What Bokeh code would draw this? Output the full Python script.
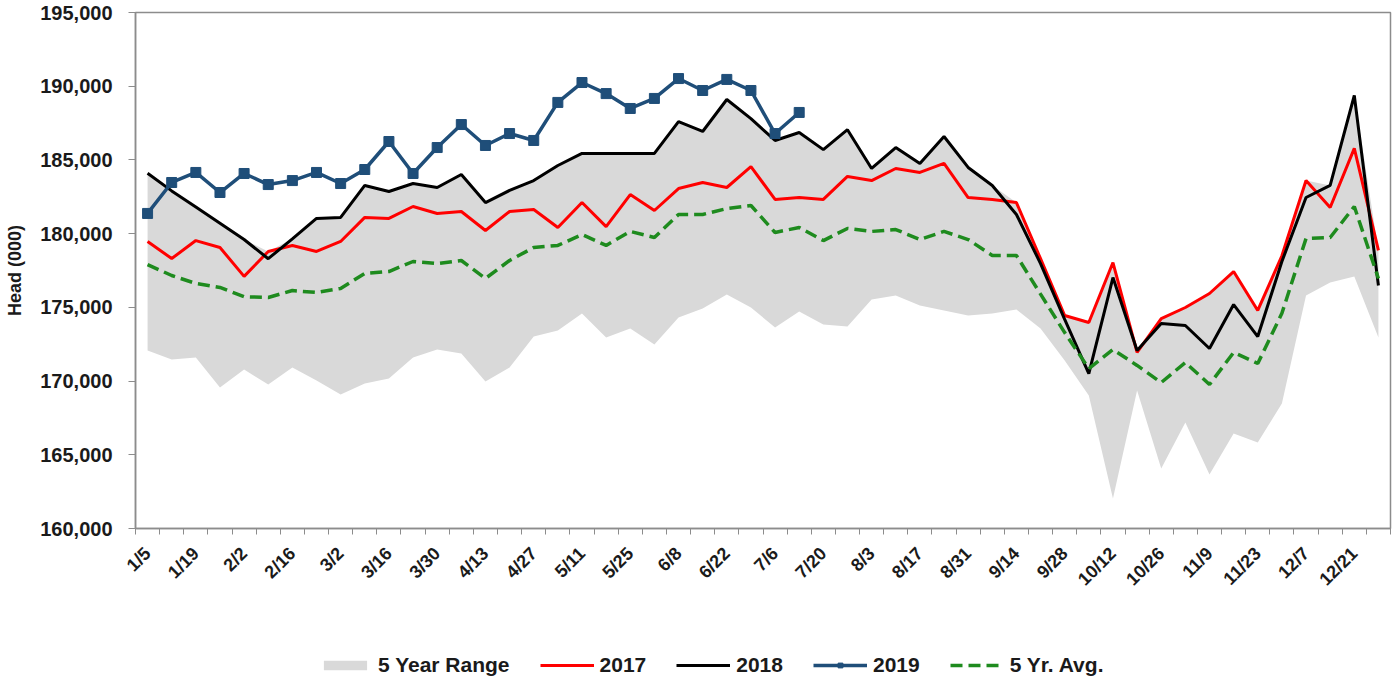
import math
from bokeh.plotting import figure
from bokeh.layouts import column
from bokeh.models import (Range1d, FixedTicker, NumeralTickFormatter, Legend, LegendItem)
from bokeh.embed import file_html
from bokeh.resources import INLINE

weeks = ["1/5", "1/12", "1/19", "1/26", "2/2", "2/9", "2/16", "2/23", "3/2", "3/9",
         "3/16", "3/23", "3/30", "4/6", "4/13", "4/20", "4/27", "5/4", "5/11", "5/18",
         "5/25", "6/1", "6/8", "6/15", "6/22", "6/29", "7/6", "7/13", "7/20", "7/27",
         "8/3", "8/10", "8/17", "8/24", "8/31", "9/7", "9/14", "9/21", "9/28", "10/5",
         "10/12", "10/19", "10/26", "11/2", "11/9", "11/16", "11/23", "11/30", "12/7", "12/14",
         "12/21", "12/28"]

y2017 = [179470, 178310, 179530, 179060, 177100, 178790, 179200, 178790, 179470, 181100,
         181030, 181840, 181370, 181500, 180210, 181500, 181640, 180420, 182110, 180480,
         182650, 181570, 183060, 183470, 183130, 184550, 182320, 182450, 182320, 183880,
         183600, 184420, 184150, 184760, 182450, 182320, 182110, 178300, 174450, 173970,
         178040, 171940, 174240, 174990, 175940, 177430, 174790, 178500, 183600, 181770,
         185780, 178860]

y2018 = [184100, 182900, 181800, 180700, 179600, 178300, 179650, 181030, 181100, 183270,
         182860, 183400, 183130, 184010, 182110, 182930, 183600, 184620, 185440, 185440,
         185440, 185440, 187600, 186930, 189100, 187800, 186320, 186860, 185700, 187050,
         184420, 185840, 184760, 186590, 184490, 183270, 181300, 177970, 174180, 170510,
         177020, 172070, 173900, 173770, 172210, 175190, 173020, 178110, 182450, 183270,
         189370, 176480]

y2019 = [181370, 183470, 184150, 182790, 184080, 183330, 183600, 184150, 183400, 184350,
         186250, 184080, 185840, 187400, 185980, 186790, 186320, 188900, 190250, 189500,
         188490, 189170, 190520, 189710, 190460, 189710, 186790, 188220]

avg5 = [177900, 177160, 176620, 176350, 175720, 175670, 176140, 176010, 176280, 177300,
        177430, 178110, 177970, 178180, 176960, 178180, 179060, 179200, 179940, 179200,
        180150, 179740, 181300, 181300, 181700, 181910, 180080, 180420, 179530, 180350,
        180150, 180280, 179600, 180150, 179600, 178520, 178520, 175900, 173290, 170850,
        172140, 171060, 169900, 171260, 169770, 171940, 171190, 174600, 179670, 179740,
        181840, 176960]

range_high = [184100, 182900, 181800, 180700, 179600, 178790, 179650, 181030, 181100, 183270,
              182860, 183400, 183130, 184010, 182110, 182930, 183600, 184620, 185440, 185440,
              185440, 185440, 187600, 186930, 189100, 187800, 186320, 186860, 185700, 187050,
              184420, 185840, 184760, 186590, 184490, 183270, 182110, 178300, 174450, 173970,
              178040, 172070, 174240, 174990, 175940, 177430, 174790, 178500, 183600, 183270,
              189370, 178860]

range_low = [172070, 171460, 171600, 169560, 170780, 169770, 170920, 170040, 169090, 169840,
             170170, 171600, 172140, 171870, 169970, 170920, 173020, 173430, 174580, 172950,
             173570, 172480, 174310, 174920, 175870, 174990, 173630, 174720, 173840, 173700,
             175530, 175800, 175120, 174790, 174450, 174580, 174860, 173570, 171400, 169020,
             162030, 169360, 164070, 167190, 163660, 166440, 165830, 168480, 175800, 176690,
             177100, 172950]

y_ticks = [160000, 165000, 170000, 175000, 180000, 185000, 190000, 195000]
series_names = ["5 Year Range", "2017", "2018", "2019", "5 Yr. Avg."]

x = list(range(len(weeks)))
x19 = x[:len(y2019)]

FONT = "Liberation Sans"
TXT = "#1a1a1a"
C_RANGE, C17, C18, C19, CAVG = "#D9D9D9", "#FF0000", "#000000", "#1F4E79", "#1E8B1E"


def draw_series(fig):
    r0 = fig.varea(x=x, y1=range_low, y2=range_high, fill_color=C_RANGE)
    r1 = fig.line(x, y2017, line_color=C17, line_width=3)
    r2 = fig.line(x, y2018, line_color=C18, line_width=3)
    r3 = fig.line(x19, y2019, line_color=C19, line_width=3.5)
    r4 = fig.scatter(x19, y2019, marker="square", size=10, fill_color=C19, line_color=C19)
    r5 = fig.line(x, avg5, line_color=CAVG, line_width=3.5, line_dash="12 6")
    return [[r0], [r1], [r2], [r3, r4], [r5]]


p = figure(width=1393, height=640, output_backend="svg", toolbar_location=None,
           x_range=Range1d(-0.5, len(weeks) - 0.5), y_range=Range1d(160000, 195000),
           min_border_left=135, min_border_right=3, min_border_top=12, min_border_bottom=112)

p.background_fill_color = "white"
p.border_fill_color = "white"
p.outline_line_color = "#8c8c8c"
p.outline_line_width = 1.5
p.xgrid.visible = False
p.ygrid.visible = False

draw_series(p)

# x axis
xa = p.xaxis[0]
label_idx = x[::2]
boundaries = [i - 0.5 for i in range(len(weeks) + 1)]
xa.ticker = FixedTicker(ticks=label_idx, minor_ticks=boundaries)
xa.major_label_overrides = {i: weeks[i] for i in label_idx}
xa.major_label_orientation = math.pi / 4
xa.major_tick_line_color = None
xa.major_tick_out = 0
xa.major_tick_in = 0
xa.minor_tick_out = 6
xa.minor_tick_in = 0
xa.minor_tick_line_color = "#8c8c8c"
xa.axis_line_color = "#8c8c8c"
xa.axis_line_width = 1.5
xa.major_label_text_font = FONT
xa.major_label_text_font_style = "bold"
xa.major_label_text_font_size = "18px"
xa.major_label_text_color = TXT
xa.major_label_standoff = 16

# y axis
ya = p.yaxis[0]
ya.ticker = FixedTicker(ticks=y_ticks)
ya.formatter = NumeralTickFormatter(format="0,0")
ya.major_tick_out = 7
ya.major_tick_in = 0
ya.minor_tick_line_color = None
ya.major_tick_line_color = "#8c8c8c"
ya.axis_line_color = "#8c8c8c"
ya.axis_line_width = 1.5
ya.major_label_text_font = FONT
ya.major_label_text_font_style = "bold"
ya.major_label_text_font_size = "20px"
ya.major_label_text_color = TXT
ya.major_label_standoff = 16
ya.axis_label = "Head (000)"
ya.axis_label_text_font = FONT
ya.axis_label_text_font_style = "bold"
ya.axis_label_text_font_size = "18px"
ya.axis_label_text_color = TXT
ya.axis_label_standoff = 12

# legend strip: same series drawn far outside its visible range, only the legend shows
q = figure(width=1393, height=44, output_backend="svg", toolbar_location=None,
           x_range=Range1d(0, 1), y_range=Range1d(0, 1),
           min_border_left=0, min_border_right=0, min_border_top=0, min_border_bottom=0)
q.axis.visible = False
q.xgrid.visible = False
q.ygrid.visible = False
q.outline_line_color = None
q.background_fill_color = "white"
q.border_fill_color = "white"

leg_renderers = draw_series(q)

legend = Legend(items=[LegendItem(label=name, renderers=rs)
                       for name, rs in zip(series_names, leg_renderers)],
                orientation="horizontal", location=(183, 7))
legend.label_text_font = FONT
legend.label_text_font_style = "bold"
legend.label_text_font_size = "21px"
legend.label_text_color = TXT
legend.glyph_width = 54
legend.glyph_height = 12
legend.label_standoff = 6
legend.spacing = 30
legend.padding = 4
legend.margin = 0
legend.border_line_color = None
legend.background_fill_alpha = 0
q.add_layout(legend, "center")

layout = column(p, q, spacing=0)
open("out.html", "w").write(file_html(layout, INLINE))
